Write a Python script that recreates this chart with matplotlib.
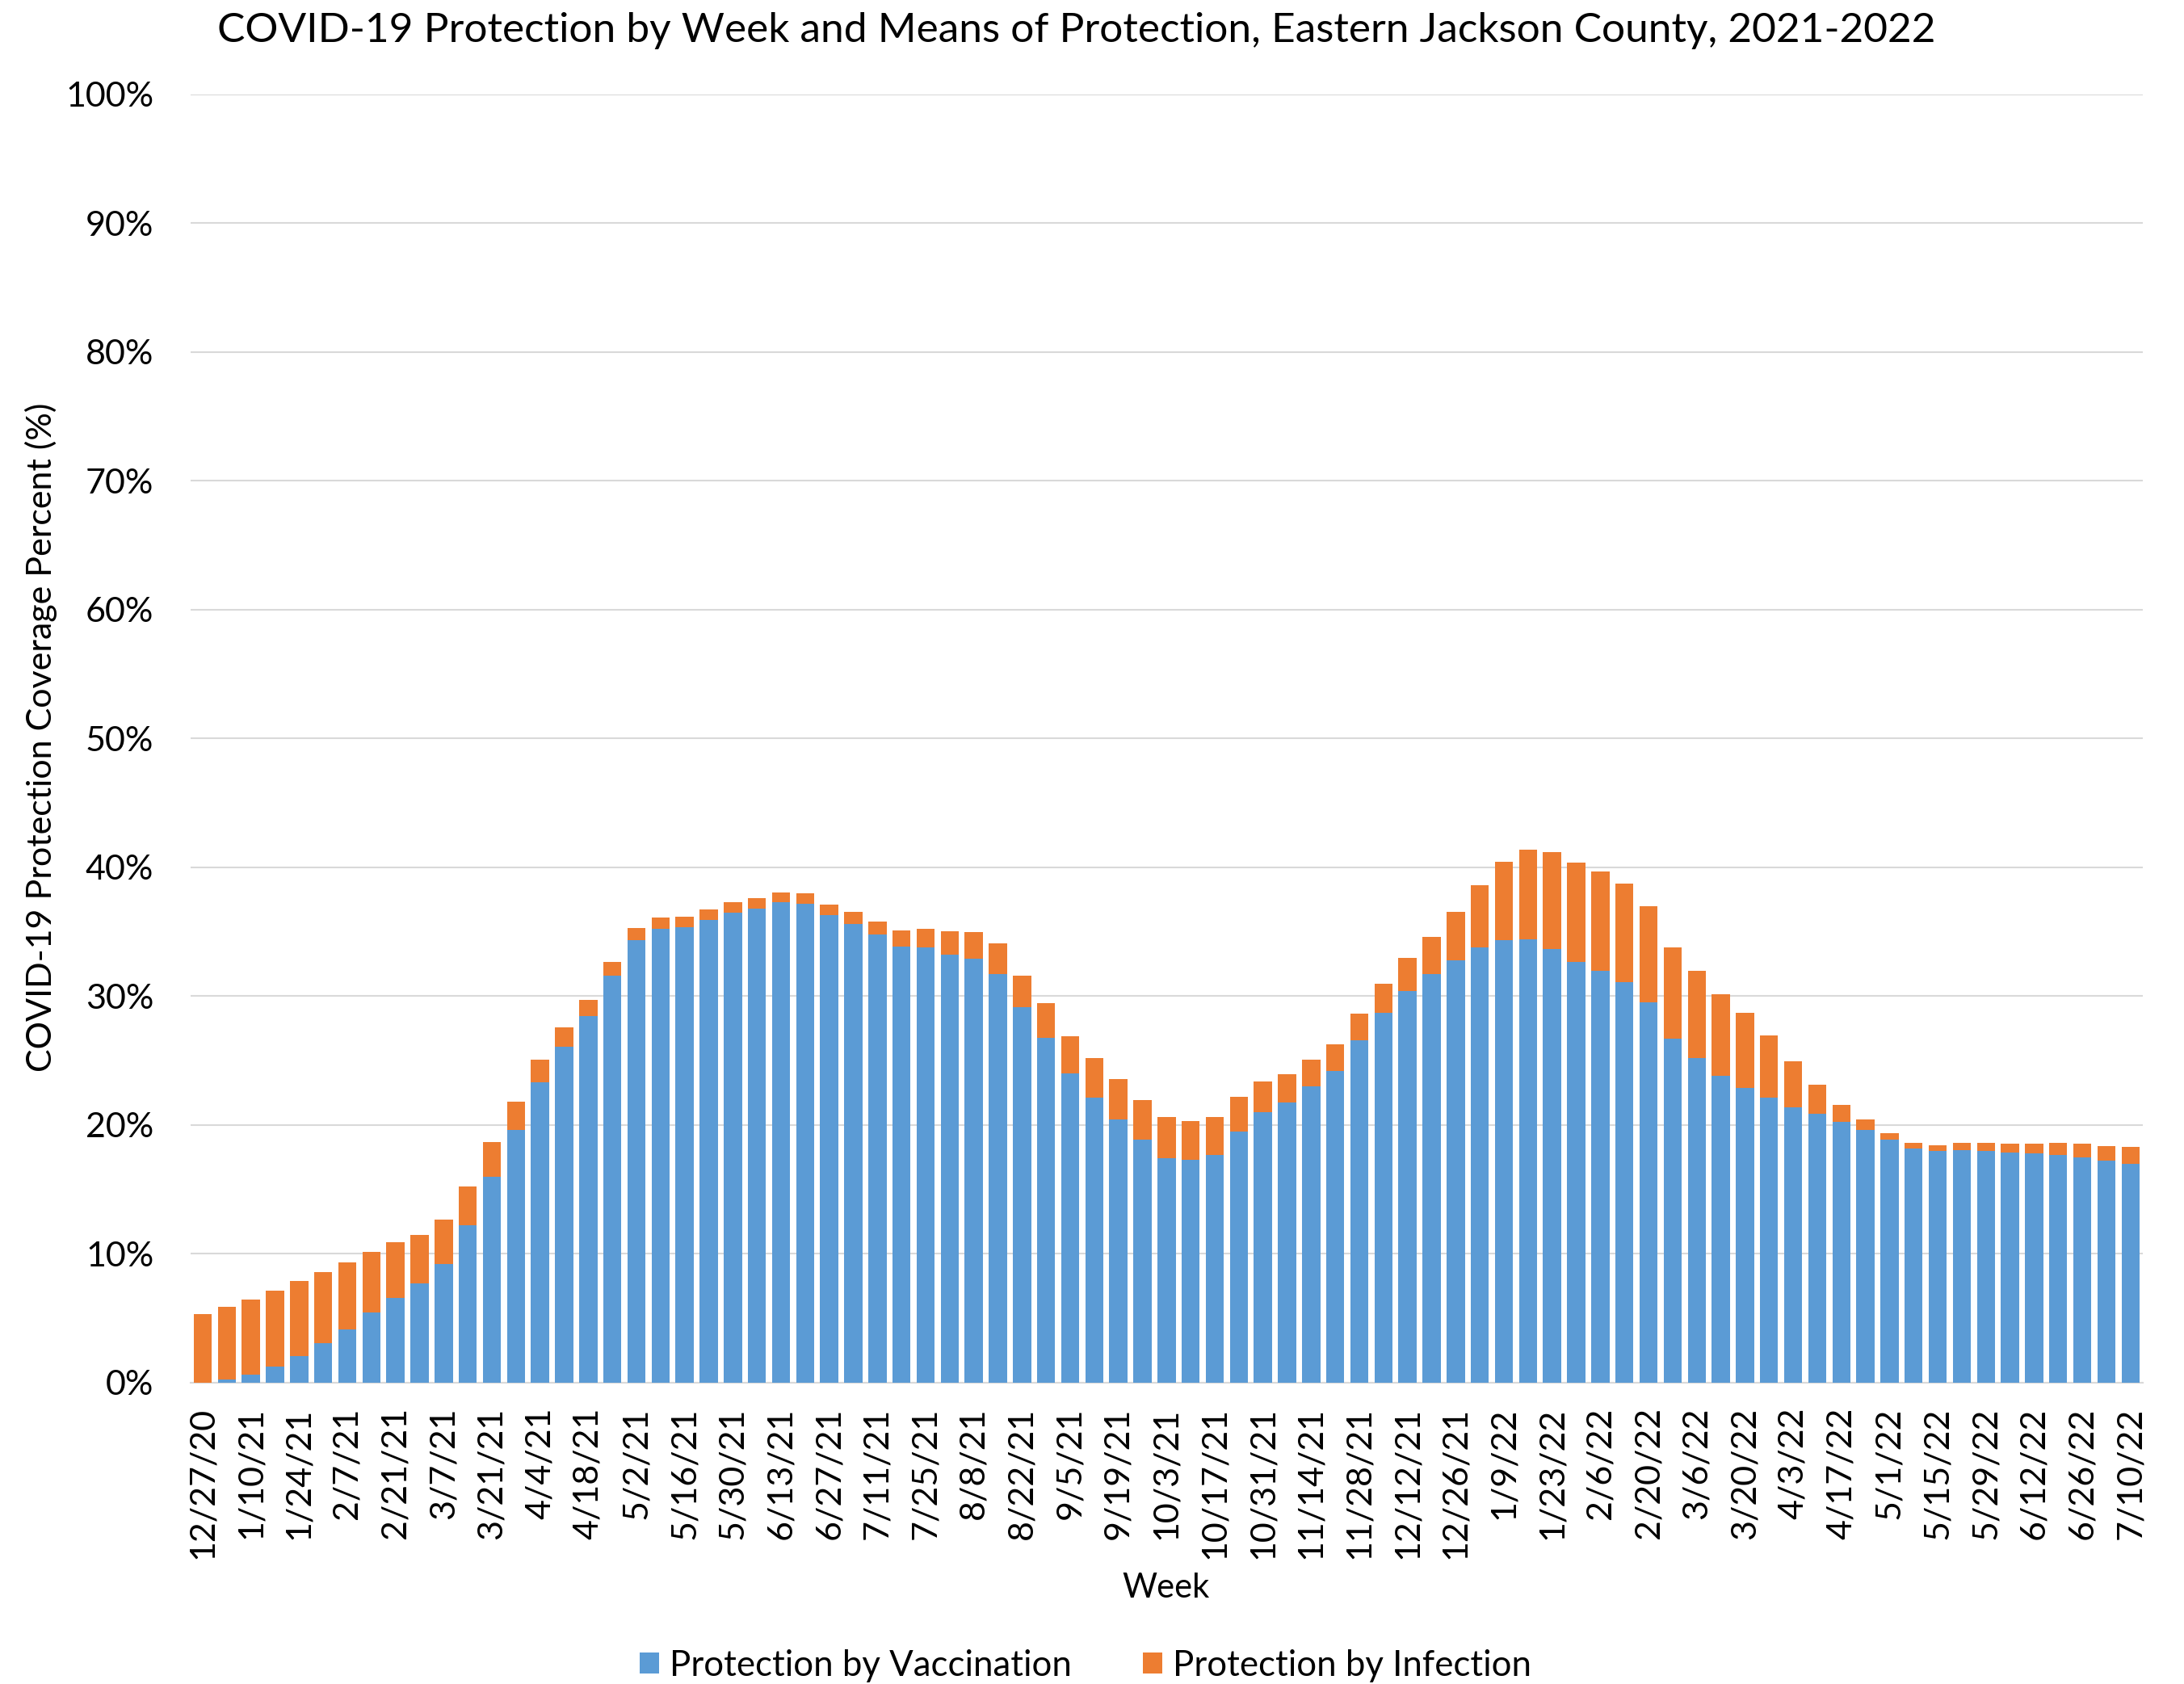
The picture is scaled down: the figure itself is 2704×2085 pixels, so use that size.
import numpy as np
import pandas as pd
import matplotlib
matplotlib.use("Agg")
import matplotlib.pyplot as plt
from matplotlib.ticker import PercentFormatter

# weekly protection coverage (%)
weeks = pd.date_range("2020-12-27", "2022-07-10", freq="7D")
week_labels = [f"{d.month}/{d.day}/{d.strftime('%y')}" for d in weeks]

total = [5.33, 5.88, 6.46, 7.12, 7.87, 8.59, 9.31, 10.14, 10.89, 11.47,
         12.62, 15.22, 18.67, 21.79, 25.07, 27.55, 29.68, 32.65, 35.27, 36.08,
         36.17, 36.71, 37.26, 37.61, 38.04, 37.95, 37.12, 36.51, 35.79, 35.07,
         35.22, 35.04, 34.95, 34.09, 31.61, 29.45, 26.89, 25.16, 23.54, 21.96,
         20.60, 20.32, 20.63, 22.19, 23.40, 23.95, 25.04, 26.25, 28.65, 30.98,
         32.94, 34.61, 36.51, 38.62, 40.43, 41.38, 41.18, 40.35, 39.68, 38.73,
         36.97, 33.78, 31.93, 30.14, 28.67, 26.95, 24.93, 23.11, 21.56, 20.40,
         19.34, 18.62, 18.44, 18.59, 18.59, 18.56, 18.56, 18.59, 18.53, 18.36,
         18.27]
vaccination = [0.0, 0.23, 0.60, 1.21, 2.05, 3.03, 4.15, 5.45, 6.57, 7.67,
               9.19, 12.22, 15.99, 19.60, 23.31, 26.08, 28.47, 31.61, 34.32, 35.22,
               35.33, 35.91, 36.46, 36.80, 37.26, 37.15, 36.28, 35.59, 34.78, 33.86,
               33.78, 33.23, 32.88, 31.73, 29.11, 26.74, 24.01, 22.13, 20.43, 18.85,
               17.44, 17.26, 17.67, 19.48, 21.01, 21.73, 23.00, 24.21, 26.54, 28.70,
               30.37, 31.73, 32.80, 33.75, 34.35, 34.38, 33.63, 32.65, 31.99, 31.10,
               29.51, 26.69, 25.22, 23.83, 22.88, 22.10, 21.35, 20.84, 20.23, 19.63,
               18.85, 18.18, 17.98, 18.04, 17.98, 17.87, 17.81, 17.67, 17.49, 17.23,
               16.95]
vaccination = np.array(vaccination)
infection = np.array(total) - vaccination

blue = "#5B9BD5"
orange = "#ED7D31"

plt.rcParams['font.family'] = ['Lato', 'DejaVu Sans']

fig = plt.figure(figsize=(27.04, 20.85), dpi=100)
ax = fig.add_axes([0.0873, 0.179, 0.8937, 0.765])

x = np.arange(len(weeks))
ax.bar(x, vaccination, width=0.75, color=blue, label="Protection by Vaccination", zorder=3)
ax.bar(x, infection, width=0.75, bottom=vaccination, color=orange,
       label="Protection by Infection", zorder=3)

ax.set_xlim(-0.5, len(weeks) - 0.5)
ax.set_ylim(0, 100)
ax.set_yticks(np.arange(0, 101, 10))
ax.yaxis.set_major_formatter(PercentFormatter(decimals=0))
ax.grid(axis="y", color="#d9d9d9", linewidth=1.5, zorder=0)

ax.set_xticks(x[::2])
ax.set_xticklabels(week_labels[::2], rotation=90, fontsize=31)
ax.tick_params(axis="x", length=0, pad=22)
ax.tick_params(axis="y", length=0, pad=33, labelsize=31)

for s in ["top", "right", "left"]:
    ax.spines[s].set_visible(False)
ax.spines["bottom"].set_color("#d9d9d9")
ax.spines["bottom"].set_linewidth(1.5)

fig.text(0.493, 0.982, "COVID-19 Protection by Week and Means of Protection, Eastern Jackson County, 2021-2022",
         ha="center", va="center", fontsize=37)
fig.text(0.019, 0.562, "COVID-19 Protection Coverage Percent (%)", rotation=90,
         ha="center", va="center", fontsize=31)
fig.text(0.534, 0.057, "Week", ha="center", va="center", fontsize=30)

fig.legend(loc="center", bbox_to_anchor=(0.497, 0.011), ncol=2, frameon=False,
           fontsize=31.5, handlelength=0.55, handleheight=0.55, columnspacing=2.0,
           handletextpad=0.3)

fig.savefig("out.png", dpi=100)
